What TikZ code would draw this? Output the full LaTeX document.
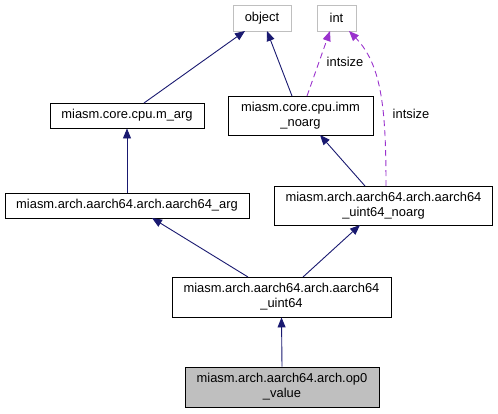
\documentclass[tikz,border=0pt]{standalone}
\usepackage{fontspec}
\setmainfont{Liberation Sans}
\usetikzlibrary{arrows.meta}
\definecolor{edgeblue}{HTML}{191970}
\definecolor{edgepurple}{HTML}{9A32CD}
\definecolor{boxgray}{HTML}{BFBFBF}
\begin{document}
\begin{tikzpicture}[x=1pt,y=-1pt,
  cls/.style={draw=black,line width=0.9pt,inner sep=0pt,align=center,
    font=\fontsize{12.9}{15}\selectfont},
  ext/.style={cls,draw=boxgray},
  cur/.style={cls,fill=boxgray},
  inh/.style={draw=edgeblue,line width=0.9pt,-{Triangle[length=10pt,width=8pt]}},
  use/.style={draw=edgepurple,line width=0.9pt,dash pattern=on 6pt off 4pt,
    -{Triangle[length=10pt,width=8pt]}},
  lbl/.style={font=\fontsize{12.9}{15}\selectfont,inner sep=0pt}]
\useasboundingbox (0,0) rectangle (498,413);
\node[ext,minimum width=58pt,minimum height=26pt] (object) at (262,18) {object};
\node[ext,minimum width=39pt,minimum height=26pt] (int) at (336.5,18) {int};
\node[cls,minimum width=154pt,minimum height=25pt] (marg) at (127,115.5) {miasm.core.cpu.m\_arg};
\node[cls,minimum width=145pt,minimum height=39pt] (imm) at (300.5,115.5) {miasm.core.cpu.imm\\\_noarg};
\node[cls,minimum width=244pt,minimum height=25pt] (aarg) at (127,205.5) {miasm.arch.aarch64.arch.aarch64\_arg};
\node[cls,minimum width=218pt,minimum height=39pt] (unoarg) at (383.5,205.5) {miasm.arch.aarch64.arch.aarch64\\\_uint64\_noarg};
\node[cls,minimum width=219pt,minimum height=40pt] (u64) at (281.5,297) {miasm.arch.aarch64.arch.aarch64\\\_uint64};
\node[cur,minimum width=194pt,minimum height=40pt] (op0) at (282,387) {miasm.arch.aarch64.arch.op0\\\_value};
\coordinate (objL) at (245,31);
\coordinate (objR) at (267,31);
\coordinate (intL) at (330,31);
\coordinate (intR) at (349,31);
\draw[inh] (144,103) -- (objL);
\draw[inh] (292,96) -- (objR);
\draw[use] (307,96) -- (intL);
\draw[use] (386,186) .. controls (386,110) and (382,65) .. (intR);
\node[lbl] (l1) at (345,62) {intsize};
\node[lbl] (l2) at (411,114) {intsize};
\draw[inh] (365,186) -- (320,135);
\draw[inh] (aarg.north) -- (marg.south);
\draw[inh] (248,277) -- (152,218);
\draw[inh] (303,277) -- (360,225);
\draw[inh] (op0.north) -- (u64.south);
\end{tikzpicture}
\end{document}
